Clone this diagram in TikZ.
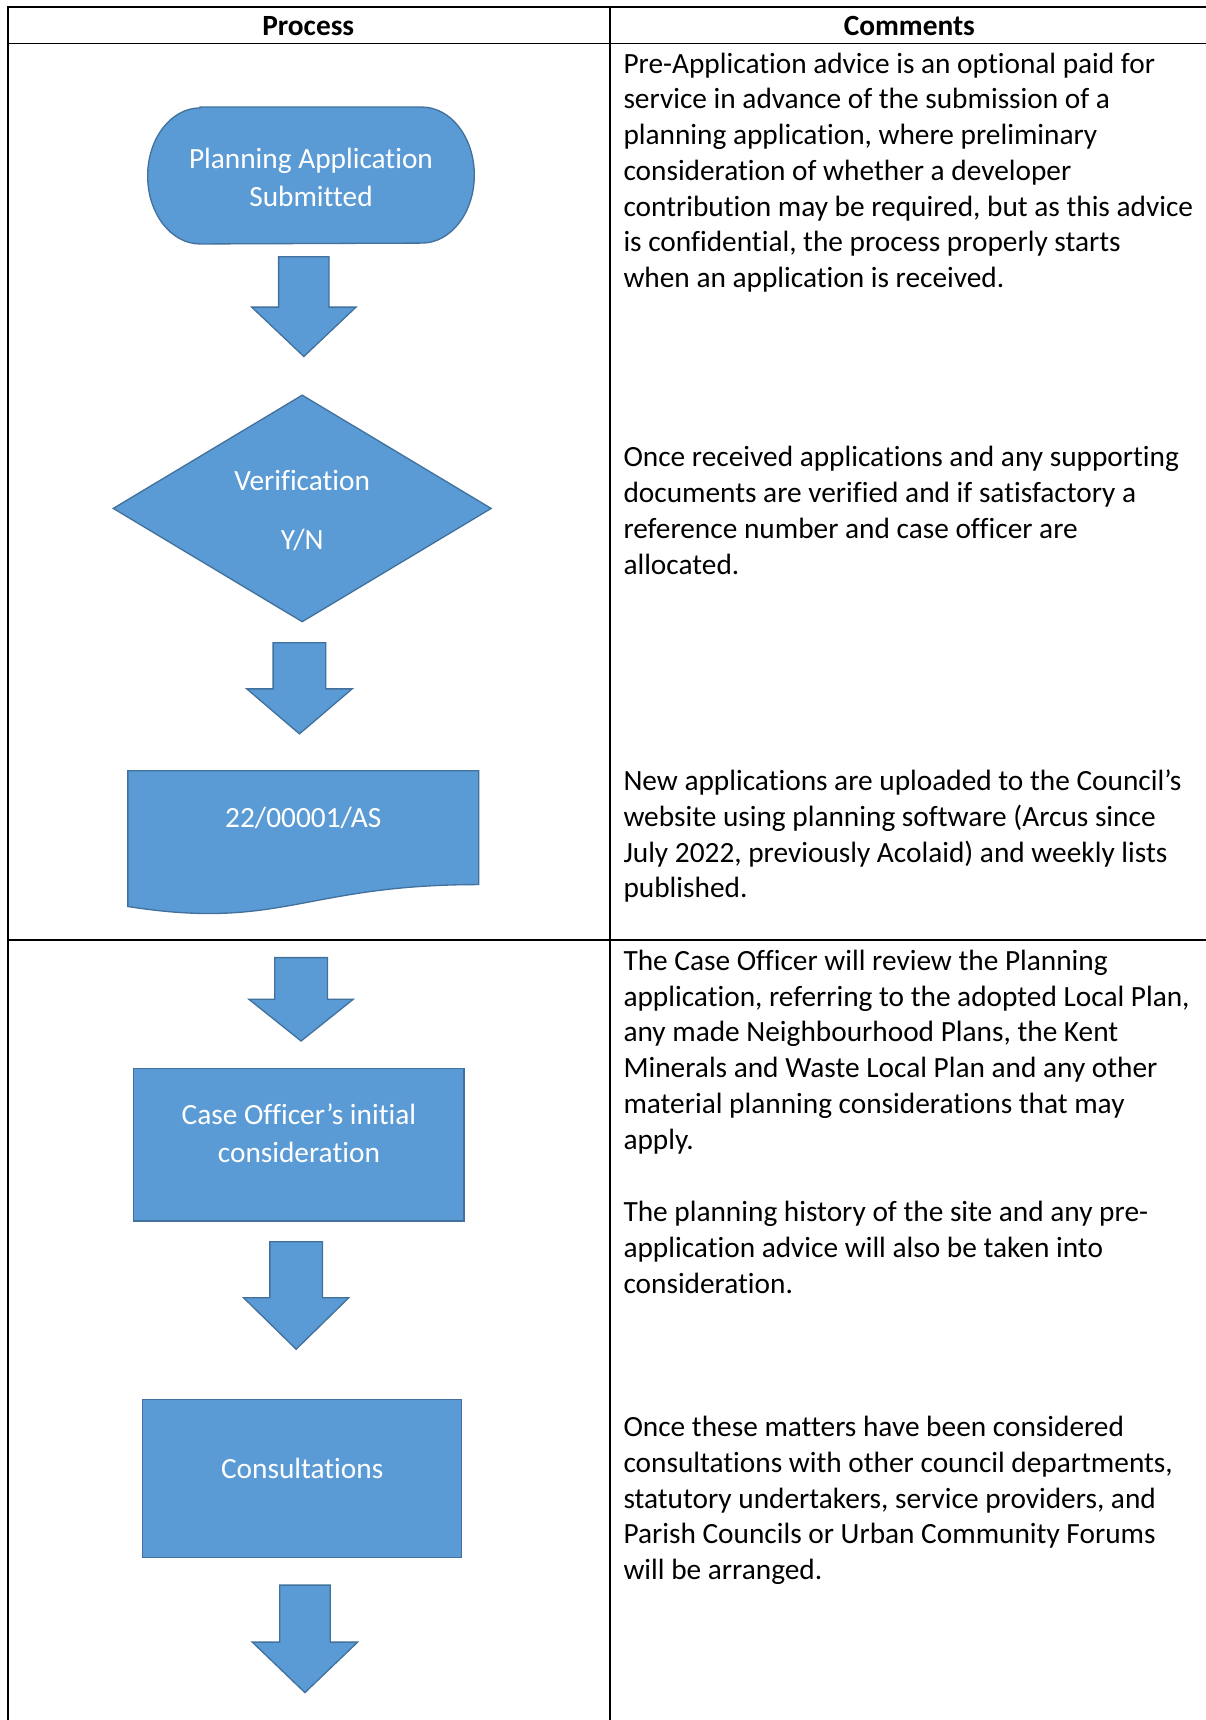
\documentclass[tikz,border=0pt]{standalone}
\usepackage{fontspec}
\setmainfont{Carlito}[RawFeature={-liga;-clig;-calt;-dlig}]
\usetikzlibrary{shapes.geometric,backgrounds,calc}

\definecolor{boxfill}{HTML}{5B9BD5}
\definecolor{boxline}{HTML}{41719C}

% block arrow pointing down: centre x, top y, shaft bottom y, tip y, shaft half width, head half width
\newcommand{\blockarrow}[6]{%
  \draw[arrowshape] (#1-#5,#2) -- (#1+#5,#2) -- (#1+#5,#3) -- (#1+#6,#3)
    -- (#1,#4) -- (#1-#6,#3) -- (#1-#5,#3) -- cycle;}

\begin{document}
\begin{tikzpicture}[x=0.5pt,y=-0.5pt,
  rule/.style={line width=0.75pt,black},
  shapebox/.style={fill=boxfill,draw=boxline,line width=0.6pt},
  arrowshape/.style={shapebox,line join=miter},
  flowtext/.style={text=white,align=center,inner sep=0pt,
    font=\fontsize{13.37}{17.5}\selectfont},
  procbox/.style={shapebox,rectangle,inner sep=0pt},
  decision/.style={diamond,shapebox,aspect=1.6,inner sep=0pt,flowtext},
  headcell/.style={inner sep=0pt,font=\bfseries\fontsize{13.37}{16.3}\selectfont},
  comment/.style={anchor=north west,inner sep=0pt,align=left,
    font=\fontsize{13.37}{16.3}\selectfont}]

\useasboundingbox (0,0) rectangle (1099,1568);

% ---------- table grid ----------
\draw[rule] (7,1568) -- (7,6.5) -- (1099,6.5);
\draw[rule] (7,39.5) -- (1099,39.5);
\draw[rule] (7,857) -- (1099,857);
\draw[rule] (556,6.5) -- (556,1568);

\node[headcell] (hproc) at (281,24) {Process};
\node[headcell] (hcomm) at (829,24) {Comments};

% ---------- flow chart: first row ----------
\node[minimum width=148.5pt,minimum height=62pt,inner sep=0pt] (start) at (283.5,160) {};
\node[flowtext] (starttxt) at (283.5,162) {Planning Application\\Submitted};

\blockarrow{277}{234}{280}{325}{23}{47.5}

\node[decision,minimum width=172.5pt,minimum height=103.5pt] (verify) at (275.5,463.5) {};
\node[flowtext] (verifytxt) at (275.5,465.5) {Verification\\[9.5pt]Y/N};

\blockarrow{273}{586}{628}{669}{24}{48}

\node[inner sep=0pt,minimum width=159.5pt,minimum height=51.5pt] (ref) at (276.5,754.5) {};
\node[flowtext] (reftxt) at (276.5,746) {22/00001/AS};

% ---------- flow chart: second row ----------
\blockarrow{274.5}{873}{911}{949}{24}{47.5}

\node[procbox,minimum width=150.5pt,minimum height=69.5pt] (review) at (272.5,1043.5) {};
\node[flowtext] (reviewtxt) at (272.5,1033) {Case Officer’s initial\\consideration};

\blockarrow{270}{1132}{1183}{1230}{24}{48}

\node[procbox,minimum width=145.5pt,minimum height=72pt] (consult) at (275.5,1348) {};
\node[flowtext] (consulttxt) at (275.5,1339) {Consultations};

\blockarrow{278}{1445}{1497}{1543}{23}{48}

% ---------- shapes drawn behind their labels ----------
\begin{scope}[on background layer]
  \fill[white] (0,0) rectangle (1099,1568);
  % terminator with elliptical ends
  \draw[shapebox] ($(start.north west)+(47.8,0)$) -- ($(start.north east)+(-47.8,0)$)
    arc[start angle=90,end angle=-90,x radius=23.9pt,y radius=31pt]
    -- ($(start.south west)+(47.8,0)$)
    arc[start angle=270,end angle=90,x radius=23.9pt,y radius=31pt] -- cycle;
  % document shape with a wavy lower edge
  \draw[shapebox] ($(ref.south west)+(0,20)$) -- (ref.north west) -- (ref.north east)
    -- (ref.south east) .. controls (ref.south) and ($(ref.south)+(-20,42)$) ..
    ($(ref.south west)+(0,20)$) -- cycle;
\end{scope}

% ---------- comments column ----------
\node[comment] (c1) at (568,43.4) {%
\strut Pre-Application advice is an optional paid for\\
\strut service in advance of the submission of a\\
\strut planning application, where preliminary\\
\strut consideration of whether a developer\\
\strut contribution may be required, but as this advice\\
\strut is confidential, the process properly starts\\
\strut when an application is received.};

\node[comment] (c2) at (568,402.4) {%
\strut Once received applications and any supporting\\
\strut documents are verified and if satisfactory a\\
\strut reference number and case officer are\\
\strut allocated.};

\node[comment] (c3) at (568,697.4) {%
\strut New applications are uploaded to the Council’s\\
\strut website using planning software (Arcus since\\
\strut July 2022, previously Acolaid) and weekly lists\\
\strut published.};

\node[comment] (c4) at (568,861.4) {%
\strut The Case Officer will review the Planning\\
\strut application, referring to the adopted Local Plan,\\
\strut any made Neighbourhood Plans, the Kent\\
\strut Minerals and Waste Local Plan and any other\\
\strut material planning considerations that may\\
\strut apply.};

\node[comment] (c5) at (568,1090.4) {%
\strut The planning history of the site and any pre-\\
\strut application advice will also be taken into\\
\strut consideration.};

\node[comment] (c6) at (568,1286.4) {%
\strut Once these matters have been considered\\
\strut consultations with other council departments,\\
\strut statutory undertakers, service providers, and\\
\strut Parish Councils or Urban Community Forums\\
\strut will be arranged.};

\end{tikzpicture}
\end{document}
